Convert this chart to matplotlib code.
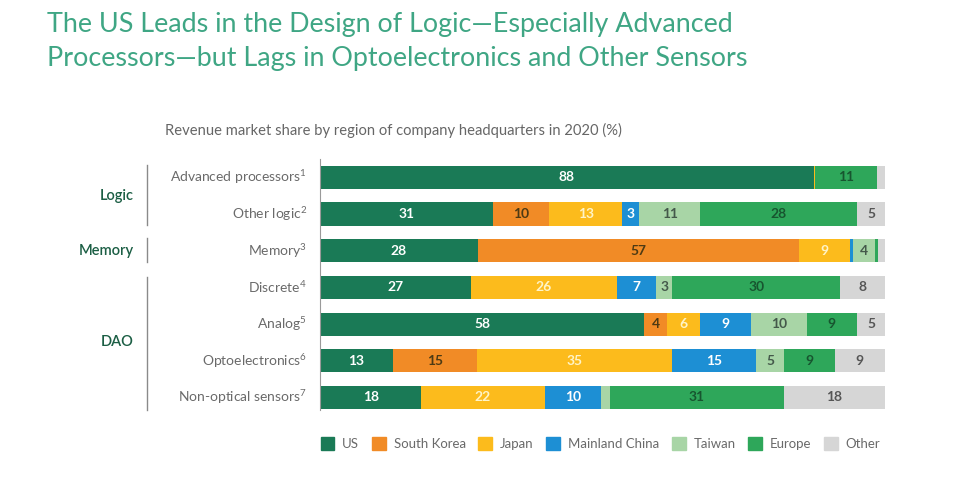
import numpy as np
import matplotlib
matplotlib.use("Agg")
import matplotlib.pyplot as plt
from matplotlib.patches import Patch
from matplotlib.transforms import blended_transform_factory

plt.rcParams['font.family'] = ['Lato', 'DejaVu Sans']
plt.rcParams['mathtext.fontset'] = 'custom'
plt.rcParams['mathtext.rm'] = 'Lato'
plt.rcParams['mathtext.it'] = 'Lato:italic'

# data
categories = ['Advanced processors', 'Other logic', 'Memory', 'Discrete',
              'Analog', 'Optoelectronics', 'Non-optical sensors']
notes = ['1', '2', '3', '4', '5', '6', '7']
regions = ['US', 'South Korea', 'Japan', 'Mainland China', 'Taiwan', 'Europe', 'Other']

us = [88, 31, 28, 27, 58, 13, 18]
south_korea = [0, 10, 57, 0, 4, 15, 0]
japan = [0.2, 13, 9, 26, 6, 35, 22]
china = [0, 3, 0.5, 7, 9, 15, 10]
taiwan = [0, 11, 4, 3, 10, 5, 1.5]
europe = [11, 28, 0.5, 30, 9, 9, 31]
other = [1.5, 5, 1.2, 8, 5, 9, 18]

groups = ['Logic', 'Memory', 'DAO']

colors = ['#1a7a56', '#f18b26', '#fcbb1c', '#1d8fd4', '#a8d5a6', '#2ea75a', '#d6d6d6']
label_colors = ['white', '#4d3a14', '#fff4c8', 'white', '#44584a', '#17552f', '#555555']

series = np.array([us, south_korea, japan, china, taiwan, europe, other], dtype=float)
shares = series / series.sum(axis=0) * 100   # bars all run full width

fig = plt.figure(figsize=(9.7, 4.92), dpi=100)
ax = fig.add_axes([0.3299, 0.166, 0.5825, 0.511])

y = np.arange(len(categories))
left = np.zeros(len(categories))
for i, name in enumerate(regions):
    ax.barh(y, shares[i], left=left, height=0.63, color=colors[i], label=name)
    for j in range(len(categories)):
        if series[i, j] >= 3:
            ax.text(left[j] + shares[i, j] / 2, y[j], '%d' % series[i, j],
                    ha='center', va='center', fontsize=10, fontweight='bold',
                    color=label_colors[i])
    left = left + shares[i]

ax.set_xlim(0, 100)
ax.set_ylim(6.35, -0.5)
ax.set_xticks([])
ax.set_yticks([])
for s in ['top', 'right', 'bottom']:
    ax.spines[s].set_visible(False)
ax.spines['left'].set_color('#9a9a9a')
ax.spines['left'].set_linewidth(0.8)

trans = blended_transform_factory(ax.transAxes, ax.transData)
for j, cat in enumerate(categories):
    ax.text(-0.023, y[j], cat + '$^{' + notes[j] + '}$', transform=trans,
            ha='right', va='center', fontsize=10, color='#6a6a6a')

# group brackets
group_pos = [0.5, 2.0, 4.5]
group_spans = [(-0.34, 1.29), (1.65, 2.3), (2.71, 6.33)]
for g, yc, (y0, y1) in zip(groups, group_pos, group_spans):
    ax.plot([-0.306, -0.306], [y0, y1], transform=trans, color='#8a8a8a',
            lw=1, clip_on=False)
    ax.text(-0.329, yc, g, transform=trans, ha='right', va='center',
            fontsize=10.5, fontweight='semibold', color='#1b5e44')

handles = [Patch(color=c, label=r) for c, r in zip(colors, regions)]
leg = ax.legend(handles=handles, loc='upper left', bbox_to_anchor=(-0.02, -0.06),
                ncol=7, frameon=False, handlelength=1.05, handleheight=1.05,
                handletextpad=0.6, columnspacing=0.95, fontsize=9.5)
for t in leg.get_texts():
    t.set_color('#6a6a6a')

fig.text(0.048, 0.975, 'The US Leads in the Design of Logic\u2014Especially Advanced\n'
         'Processors\u2014but Lags in Optoelectronics and Other Sensors',
         ha='left', va='top', fontsize=19.4, color='#3fa684', linespacing=1.42)
fig.text(0.17, 0.735, 'Revenue market share by region of company headquarters in 2020 (%)',
         ha='left', va='center', fontsize=10.6, color='#666666')

fig.savefig('out.png', dpi=100)
